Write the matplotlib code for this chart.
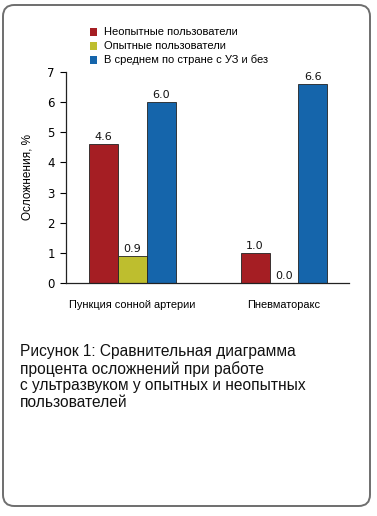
import numpy as np
import matplotlib
matplotlib.use('Agg')
import matplotlib.pyplot as plt
from matplotlib.patches import FancyBboxPatch, Rectangle

plt.rcParams['font.family'] = ['Liberation Sans', 'DejaVu Sans']

categories = ['Пункция сонной артерии', 'Пневматоракс']
series_names = ['Неопытные пользователи', 'Опытные пользователи', 'В среднем по стране с УЗ и без']
novice = [4.6, 1.0]
experienced = [0.9, 0.0]
average = [6.0, 6.6]
colors = ['#A51E23', '#BEBE2E', '#1565AB']
caption = ('Рисунок 1: Сравнительная диаграмма\n'
           'процента осложнений при работе\n'
           'с ультразвуком у опытных и неопытных\n'
           'пользователей')

fig = plt.figure(figsize=(3.77, 5.16), dpi=100)

# rounded frame round the whole card
frame = FancyBboxPatch((3 / 377, 1 - 506 / 516), 367 / 377, 501 / 516,
                       boxstyle='round,pad=0,rounding_size=0.03',
                       transform=fig.transFigure, fill=False, edgecolor='#6e6e6e', linewidth=1.4,
                       mutation_aspect=377 / 516)
fig.patches.append(frame)

ax = fig.add_axes([66 / 377, 1 - 283 / 516, (349 - 66) / 377, (283 - 72) / 516])
x = np.arange(len(categories))
w = 0.191
all_series = [novice, experienced, average]
for i, vals in enumerate(all_series):
    pos = x + (i - 1) * w
    ax.bar(pos, vals, width=w, color=colors[i], edgecolor='#222222', linewidth=0.6)
    for p, v in zip(pos, vals):
        ax.text(p, v + 0.07, f'{v:.1f}', ha='center', va='bottom', fontsize=8,
                family='DejaVu Sans', color='#111111')

ax.set_xlim(-0.439, 1.429)
ax.set_ylim(0, 7)
ax.set_yticks(range(8))
ax.set_xticks(x)
ax.set_xticklabels(categories, fontsize=7.9)
ax.tick_params(axis='x', length=0, pad=12)
ax.tick_params(axis='y', length=4, width=0.8, labelsize=8.5, pad=4)
for t in ax.get_yticklabels():
    t.set_family('DejaVu Sans')
ax.set_ylabel('Осложнения, %', fontsize=8.5, labelpad=10)
for s in ['top', 'right']:
    ax.spines[s].set_visible(False)
for s in ['left', 'bottom']:
    ax.spines[s].set_linewidth(0.9)
    ax.spines[s].set_color('#222222')

# legend drawn as squares and labels
leg_y = [32, 46, 60]
for name, c, yy in zip(series_names, colors, leg_y):
    fig.patches.append(Rectangle((90 / 377, 1 - (yy + 4) / 516), 7.5 / 377, 7.5 / 516,
                                 transform=fig.transFigure, facecolor=c, edgecolor='none'))
    fig.text(104 / 377, 1 - yy / 516, name, fontsize=8, va='center', ha='left')

fig.text(20 / 377, 1 - 344 / 516, caption, fontsize=11.2, va='top', ha='left',
         linespacing=1.14, color='#111111')

fig.savefig('out.png', dpi=100)
